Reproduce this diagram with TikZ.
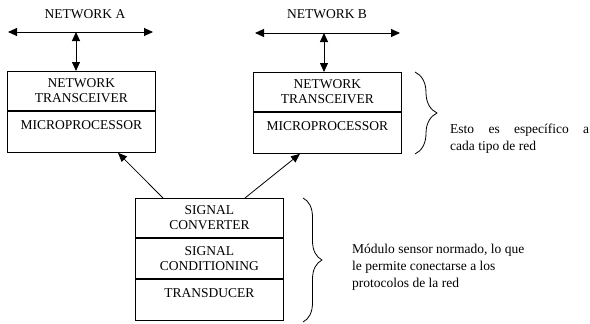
\documentclass[tikz,border=0pt]{standalone}
\usepackage{fontspec}
\setmainfont{Liberation Serif}
\usetikzlibrary{arrows.meta, positioning, decorations.pathreplacing}

\begin{document}
\begin{tikzpicture}[x=1pt, y=-1pt,
  font=\fontsize{13.5}{15}\selectfont,
  part/.style={draw, line width=0.9pt, minimum width=148pt, minimum height=39pt, inner sep=0pt, align=center},
  lowpart/.style={part, minimum height=40pt, text height=18.5pt, text depth=22.5pt},
  bus/.style={{Triangle[length=9pt, width=8pt]}-{Triangle[length=9pt, width=8pt]}, line width=0.9pt},
  arr/.style={-{Triangle[length=9pt, width=7.5pt]}, line width=0.8pt},
  brace/.style={decorate, decoration={brace, amplitude=#1}, line width=0.8pt},
  note/.style={inner sep=0pt, anchor=west, font=\fontsize{13.5}{17}\selectfont}]

  \useasboundingbox (0,0) rectangle (590,324);

  % network A side
  \node (netA) at (85,14) {NETWORK A};
  \coordinate (busAl) at (8,32);
  \coordinate (busAr) at (153,32);
  \coordinate (tapA) at (76,32);
  \node[part, anchor=north west] (transA) at (7,71) {NETWORK\\TRANSCEIVER};
  \node[lowpart, below=0pt of transA] (microA) {MICROPROCESSOR};

  % network B side
  \node (netB) at (327,14) {NETWORK B};
  \coordinate (busBl) at (255,33);
  \coordinate (busBr) at (400,33);
  \coordinate (tapB) at (324,33);
  \node[part, anchor=north west] (transB) at (253,72) {NETWORK\\TRANSCEIVER};
  \node[lowpart, below=0pt of transB] (microB) {MICROPROCESSOR};

  % sensor module
  \node[part, anchor=north west] (convC) at (135,198) {SIGNAL\\CONVERTER};
  \node[part, minimum height=40pt, below=0pt of convC] (condC) {SIGNAL\\CONDITIONING};
  \node[lowpart, below=0pt of condC] (transdC) {TRANSDUCER};

  \draw[bus] (busAl) -- (busAr);
  \draw[bus] (tapA) -- (tapA |- transA.north);
  \draw[bus] (busBl) -- (busBr);
  \draw[bus] (tapB) -- (tapB |- transB.north);

  \draw[arr] ([xshift=28pt]convC.north west) -- ([xshift=111pt]microA.south west);
  \draw[arr] ([xshift=110pt]convC.north west) -- ([xshift=47pt]microB.south west);

  \draw[brace=22pt] (415,72) -- (415,154);
  \draw[brace=19pt] (303,198) -- (303,322);

  \node[note, align=left] (noteB) at (450,138.5)
    {\makebox[139pt][s]{Esto es específico a}\\cada tipo de red};
  \node[note, align=left] (noteC) at (352,267)
    {Módulo sensor normado, lo que\\le permite conectarse a los\\protocolos de la red};
\end{tikzpicture}
\end{document}
